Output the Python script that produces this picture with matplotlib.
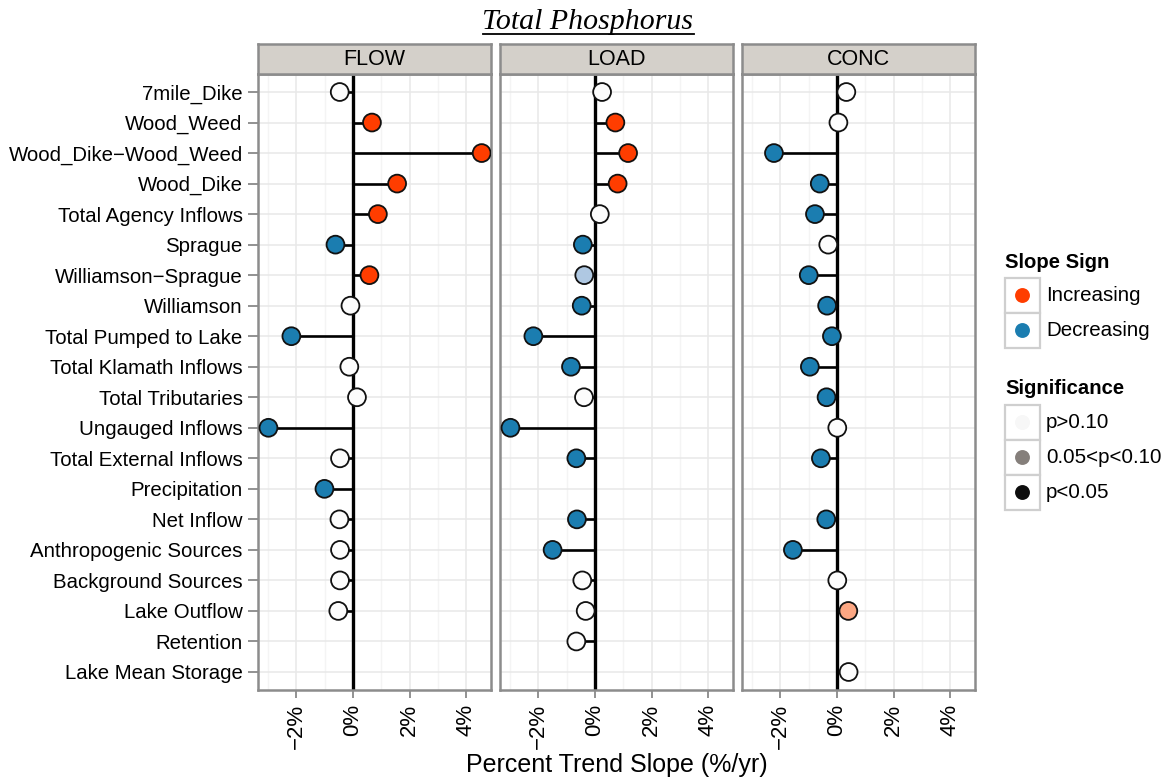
import numpy as np
import matplotlib
matplotlib.use("Agg")
import matplotlib.pyplot as plt
from matplotlib.patches import Rectangle
from matplotlib.lines import Line2D

plt.rcParams["font.family"] = ["Liberation Sans", "DejaVu Sans"]

# ---- data -------------------------------------------------------------
sites = [
    "7mile_Dike", "Wood_Weed", "Wood_Dike\u2212Wood_Weed", "Wood_Dike",
    "Total Agency Inflows", "Sprague", "Williamson\u2212Sprague", "Williamson",
    "Total Pumped to Lake", "Total Klamath Inflows", "Total Tributaries",
    "Ungauged Inflows", "Total External Inflows", "Precipitation",
    "Net Inflow", "Anthropogenic Sources", "Background Sources",
    "Lake Outflow", "Retention", "Lake Mean Storage",
]
panels = ["FLOW", "LOAD", "CONC"]
nan = np.nan

flow_slope = [-0.47, 0.67, 4.55, 1.56, 0.88, -0.62, 0.58, -0.09, -2.18, -0.13,
              0.14, -2.99, -0.46, -1.01, -0.48, -0.46, -0.46, -0.52, nan, nan]
load_slope = [0.25, 0.72, 1.17, 0.80, 0.17, -0.43, -0.38, -0.47, -2.18, -0.85,
              -0.39, -2.99, -0.66, nan, -0.64, -1.50, -0.45, -0.33, -0.66, nan]
conc_slope = [0.33, 0.05, -2.23, -0.61, -0.78, -0.31, -1.00, -0.35, -0.18, -0.96,
              -0.37, 0.01, -0.57, nan, -0.38, -1.56, 0.01, 0.40, nan, 0.41]

NS, MARG, SIG = "p>0.10", "0.05<p<0.10", "p<0.05"
flow_sig = [NS, SIG, SIG, SIG, SIG, SIG, SIG, NS, SIG, NS,
            NS, SIG, NS, SIG, NS, NS, NS, NS, None, None]
load_sig = [NS, SIG, SIG, SIG, NS, SIG, MARG, SIG, SIG, SIG,
            NS, SIG, SIG, None, SIG, SIG, NS, NS, NS, None]
conc_sig = [NS, NS, SIG, SIG, SIG, NS, SIG, SIG, SIG, SIG,
            SIG, NS, SIG, None, SIG, SIG, NS, MARG, None, NS]

x_ticks = [-2, 0, 2, 4]
x_ticklabels = ["\u22122%", "0%", "2%", "4%"]
x_minor = [-3, -1, 1, 3]

slopes = [flow_slope, load_slope, conc_slope]
sigs = [flow_sig, load_sig, conc_sig]

sign_labels = ["Increasing", "Decreasing"]
sign_colors = ["#FF3D00", "#1B7DB0"]
sig_labels = [NS, MARG, SIG]
sig_key_colors = ["#F7F7F7", "#857F7B", "#0D0D0D"]

# fill of a point: full hue when significant, pale hue when marginal, white otherwise
fill_map = {
    ("inc", SIG): "#FF3D00", ("dec", SIG): "#1B7DB0",
    ("inc", MARG): "#FCA783", ("dec", MARG): "#AFC8E2",
    ("inc", NS): "#FCFCFC", ("dec", NS): "#FCFCFC",
}

# ---- figure -----------------------------------------------------------
W, H = 1169, 780
fig = plt.figure(figsize=(W / 100, H / 100), dpi=100)
fig.patch.set_facecolor("white")


def fx(px):
    return px / W


def fy(py):
    return 1 - py / H


panel_x = [(258, 491), (500, 733), (742, 975)]
top, bottom = 74, 690
strip_top = 44
xlim = (-3.36, 4.88)
n = len(sites)
ypos = np.arange(n)

for k, (name, (x0, x1)) in enumerate(zip(panels, panel_x)):
    ax = fig.add_axes([fx(x0), fy(bottom), fx(x1 - x0), (bottom - top) / H])
    ax.set_xlim(*xlim)
    ax.set_ylim(n - 0.41, -0.59)
    ax.set_facecolor("white")

    # grid
    for xm in x_minor:
        ax.axvline(xm, color="#F4F4F4", lw=1.0, zorder=0)
    for xt in x_ticks:
        ax.axvline(xt, color="#E8E8E8", lw=1.1, zorder=0)
    for yy in ypos:
        ax.axhline(yy, color="#E8E8E8", lw=1.1, zorder=0)

    vals = np.array(slopes[k], dtype=float)
    sg = np.array(sigs[k], dtype=object)
    ok = ~np.isnan(vals)

    # stems from zero to each slope
    ax.hlines(ypos[ok], 0, vals[ok], color="black", lw=1.9, zorder=2)
    ax.axvline(0, color="black", lw=2.4, zorder=2)

    fills = [fill_map[("inc" if v > 0 else "dec", s)] for v, s in zip(vals[ok], sg[ok])]
    ax.scatter(vals[ok], ypos[ok], s=165, c=fills, edgecolors="#111111",
               linewidths=1.3, zorder=3)

    ax.set_xticks(x_ticks)
    ax.set_xticklabels(x_ticklabels, rotation=90, fontsize=16, color="black")
    ax.tick_params(axis="x", length=6, width=1.2, color="#7F7F7F", pad=4)
    ax.set_yticks(ypos)
    if k == 0:
        ax.set_yticklabels(sites, fontsize=14.7, color="black")
        ax.tick_params(axis="y", length=7, width=1.2, color="#7F7F7F", pad=4)
    else:
        ax.set_yticklabels([])
        ax.tick_params(axis="y", length=0)
    for sp in ax.spines.values():
        sp.set_color("#8C8C8C")
        sp.set_linewidth(1.8)

    # facet strip
    sax = fig.add_axes([fx(x0), fy(top), fx(x1 - x0), (top - strip_top) / H])
    sax.set_xticks([])
    sax.set_yticks([])
    sax.set_facecolor("#D4D0CA")
    for sp in sax.spines.values():
        sp.set_color("#8C8C8C")
        sp.set_linewidth(1.8)
    sax.text(0.5, 0.47, name, ha="center", va="center", fontsize=15.5,
             transform=sax.transAxes)

# ---- overlay: title, axis title, legends ------------------------------
ov = fig.add_axes([0, 0, 1, 1])
ov.set_xlim(0, W)
ov.set_ylim(H, 0)
ov.axis("off")
ov.patch.set_visible(False)

title = ov.text(588, 29, "Total Phosphorus", ha="center", va="baseline",
                fontsize=21.5, style="italic", family=["Liberation Serif", "DejaVu Serif"])
fig.canvas.draw()
bb = title.get_window_extent(renderer=fig.canvas.get_renderer())
ov.add_line(Line2D([bb.x0, bb.x1], [34, 34], color="black", lw=1.3))

ov.text(616.5, 765, "Percent Trend Slope (%/yr)", ha="center", va="center",
        fontsize=18)


def legend_block(title_y, labels, colors, key_top):
    ov.text(1005, title_y, labels[0], ha="left", va="center", fontsize=14.6,
            fontweight="bold")
    for i, (lab, col) in enumerate(zip(labels[1], colors)):
        y0 = key_top + i * 35
        ov.add_patch(Rectangle((1005, y0), 35, 35, facecolor="white",
                               edgecolor="#CFCFCF", lw=1.6))
        ov.scatter([1022.5], [y0 + 17.5], s=115, c=[col], edgecolors="none")
        ov.text(1046, y0 + 17.5, lab, ha="left", va="center", fontsize=14.8)


legend_block(262, ("Slope Sign", sign_labels), sign_colors, 278)
legend_block(388, ("Significance", sig_labels), sig_key_colors, 405)

fig.savefig("out.png", dpi=100, facecolor="white")
